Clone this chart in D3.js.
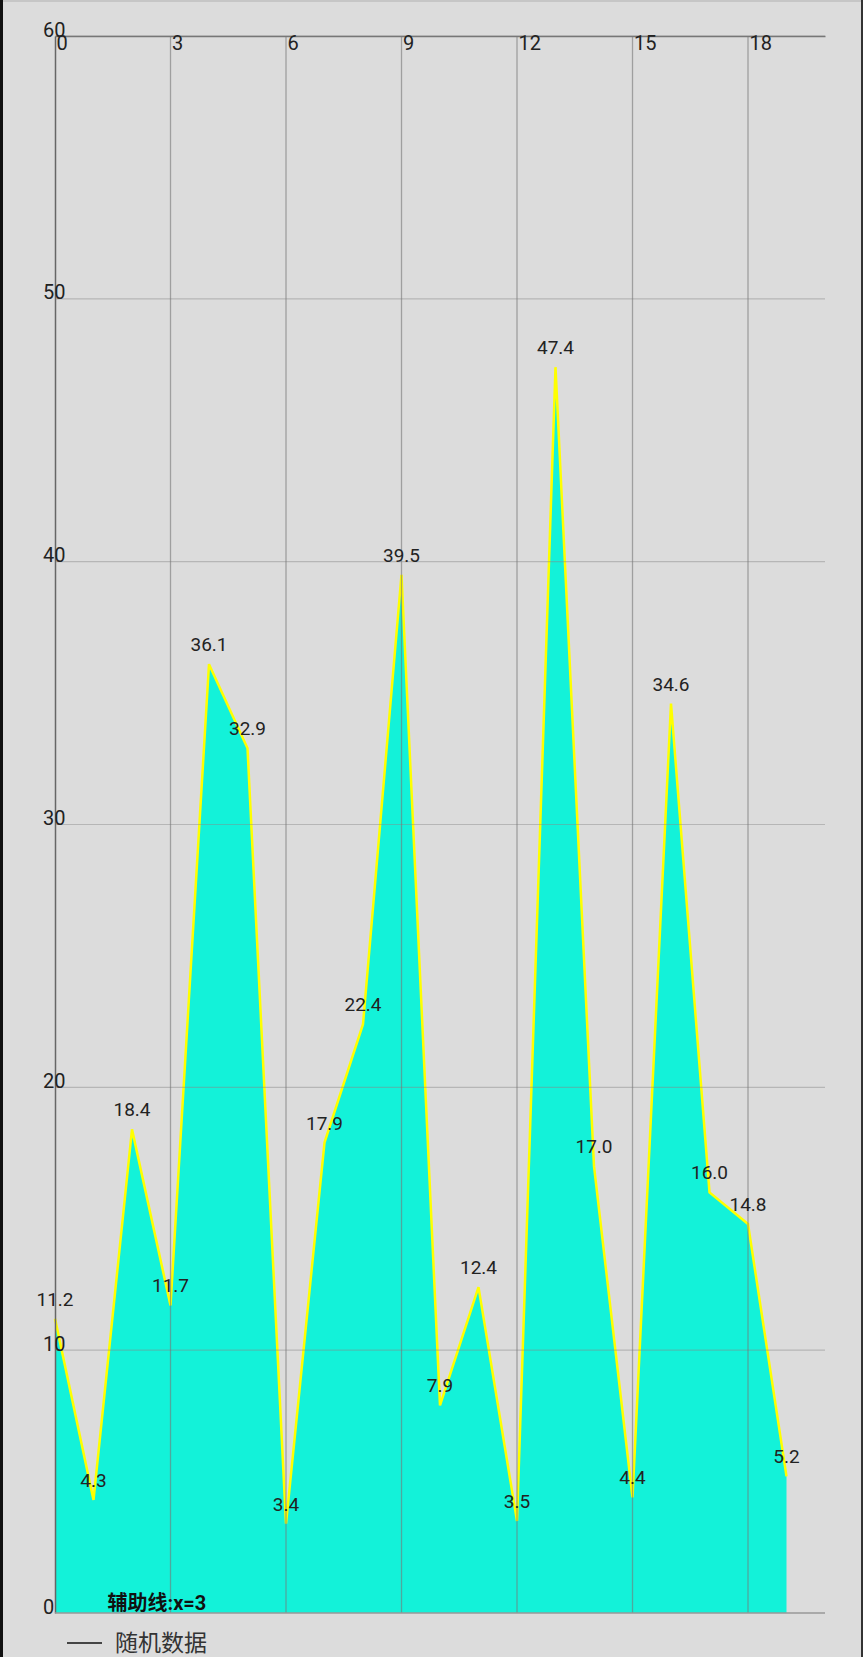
<!DOCTYPE html>
<html>
<head>
<meta charset="utf-8">
<script src="https://cdn.jsdelivr.net/npm/d3@7"></script>
<style>
  body { margin: 0; background: #fff; }
  text { font-family: Roboto, "Noto Sans CJK SC", sans-serif; }
</style>
</head>
<body>
<div id="chart"></div>
<script>
// values
const xValues = d3.range(0, 20);
const seriesValues = [11.2, 4.3, 18.4, 11.7, 36.1, 32.9, 3.4, 17.9, 22.4, 39.5,
                      7.9, 12.4, 3.5, 47.4, 17.0, 4.4, 34.6, 16.0, 14.8, 5.2];
const xTicks = [0, 3, 6, 9, 12, 15, 18];
const yTicks = [0, 10, 20, 30, 40, 50, 60];
const seriesName = "随机数据";
const guideLabel = "辅助线:x=3";
const guideX = 3;

const W = 863, H = 1665;
const plotLeft = 55, plotRight = 825, plotTop = 36, plotBottom = 1613;

const svg = d3.select("#chart").append("svg")
    .attr("width", W)
    .attr("height", H);

// background + frame
svg.append("rect").attr("width", W).attr("height", 1657).attr("fill", "#dcdcdc");
svg.append("rect").attr("width", W).attr("height", 2).attr("fill", "#c6c6c6");
svg.append("rect").attr("width", 3).attr("height", 1657).attr("fill", "#111");
svg.append("rect").attr("x", 861).attr("width", 2).attr("height", 1657).attr("fill", "#333");

const x = d3.scaleLinear().domain([0, 20]).range([plotLeft, plotRight]);
const y = d3.scaleLinear().domain([0, 60]).range([plotBottom, plotTop]);

const data = xValues.map((d, i) => ({x: d, v: seriesValues[i]}));

// filled area + yellow outline
svg.append("path")
    .datum(data)
    .attr("fill", "#13f2d9")
    .attr("d", d3.area().x(d => x(d.x)).y0(y(0)).y1(d => y(d.v)));

svg.append("path")
    .datum(data)
    .attr("fill", "none")
    .attr("stroke", "#ffff00")
    .attr("stroke-width", 2.5)
    .attr("d", d3.line().x(d => x(d.x)).y(d => y(d.v)));

// grid drawn over the fill
svg.append("g")
    .selectAll("line")
    .data(yTicks.slice(1))
    .enter()
    .append("line")
    .attr("x1", plotLeft).attr("x2", plotRight)
    .attr("y1", d => y(d)).attr("y2", d => y(d))
    .attr("stroke", "#888")
    .attr("stroke-opacity", 0.45)
    .attr("stroke-width", 1.2);

svg.append("g")
    .selectAll("line")
    .data(xTicks.slice(1))
    .enter()
    .append("line")
    .attr("x1", d => x(d)).attr("x2", d => x(d))
    .attr("y1", plotTop).attr("y2", plotBottom)
    .attr("stroke", "#777")
    .attr("stroke-opacity", 0.6)
    .attr("stroke-width", 1.3);

// axes
const xAxis = svg.append("g")
    .attr("transform", `translate(0,${plotTop})`)
    .call(d3.axisBottom(x).tickValues(xTicks).tickSize(0).tickPadding(0));
xAxis.select(".domain").attr("stroke", "#777").attr("stroke-width", 1.5);
xAxis.selectAll("text")
    .attr("text-anchor", "start")
    .attr("dx", "1")
    .attr("y", 0)
    .attr("dy", "0.71em")
    .attr("fill", "#222")
    .style("font-size", "20px");

const yAxis = svg.append("g")
    .attr("transform", `translate(${plotLeft},0)`)
    .call(d3.axisLeft(y).tickValues(yTicks).tickSize(0));
yAxis.select(".domain").attr("stroke", "#666").attr("stroke-width", 1.5);
yAxis.selectAll("text")
    .attr("text-anchor", "start")
    .attr("x", -12)
    .attr("dy", "0")
    .attr("fill", "#222")
    .style("font-size", "20px");

svg.append("line")
    .attr("x1", plotLeft).attr("x2", plotRight)
    .attr("y1", y(0)).attr("y2", y(0))
    .attr("stroke", "#999")
    .attr("stroke-width", 1.5);

// value labels
svg.append("g")
    .selectAll("text")
    .data(data)
    .enter()
    .append("text")
    .attr("x", d => x(d.x))
    .attr("y", d => y(d.v) - 13)
    .attr("text-anchor", "middle")
    .attr("fill", "#222")
    .style("font-size", "19px")
    .text(d => d.v.toFixed(1));

// guide label
svg.append("text")
    .attr("x", x(guideX) - 63)
    .attr("y", plotBottom - 3)
    .attr("fill", "#111")
    .style("font-size", "20px")
    .style("font-weight", "bold")
    .text(guideLabel);

// legend
svg.append("line")
    .attr("x1", 67).attr("x2", 102)
    .attr("y1", 1643).attr("y2", 1643)
    .attr("stroke", "#444")
    .attr("stroke-width", 2);

svg.append("text")
    .attr("x", 115)
    .attr("y", 1651)
    .attr("fill", "#333")
    .style("font-size", "23px")
    .text(seriesName);
</script>
</body>
</html>
